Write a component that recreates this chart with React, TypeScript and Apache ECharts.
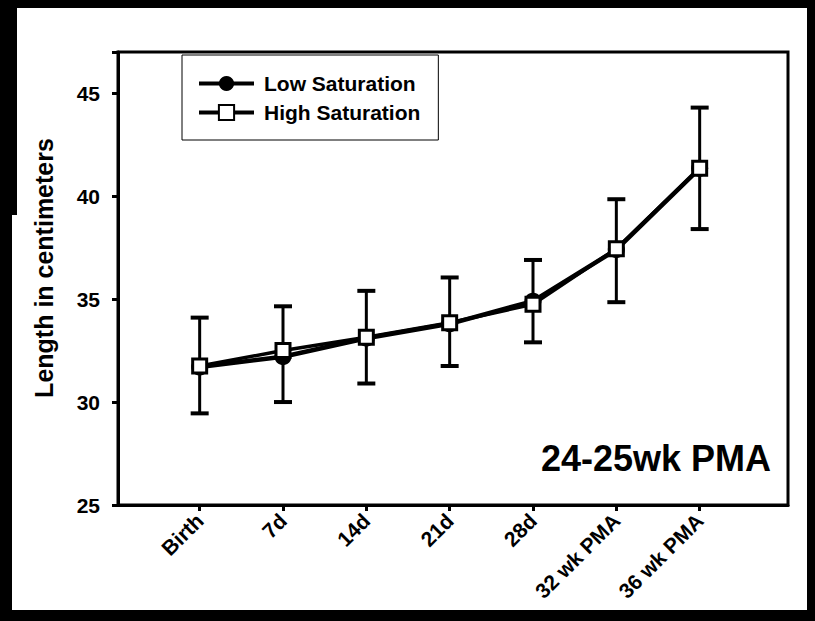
import React, { useEffect, useRef } from "react";
import * as echarts from "echarts";

const categories = ["Birth", "7d", "14d", "21d", "28d", "32 wk PMA", "36 wk PMA"];
const lowSaturation = [31.7, 32.2, 33.1, 33.8, 34.9, 37.4, 41.35];
const highSaturation = [31.75, 32.5, 33.15, 33.85, 34.75, 37.45, 41.35];
const errorUpper = [34.1, 34.65, 35.4, 36.05, 36.9, 39.85, 44.3];
const errorLower = [29.45, 30.0, 30.9, 31.75, 32.9, 34.85, 38.4];
const yTicks = [25, 30, 35, 40, 45];
const yAxisTitle = "Length in centimeters";
const panelLabel = "24-25wk PMA";
const seriesNames = ["Low Saturation", "High Saturation"];

const FONT = "'Liberation Sans', Arial, Helvetica, sans-serif";

export default function App() {
  const ref = useRef<HTMLDivElement>(null);

  useEffect(() => {
    if (!ref.current) return;
    const chart = echarts.init(ref.current, null, { renderer: "svg" });
    const idx = categories.map((_, i) => i);

    const option: any = {
      animation: false,
      backgroundColor: "#fff",
      textStyle: { fontFamily: FONT },
      grid: {
        left: 118,
        right: 27,
        top: 52,
        bottom: 116,
        show: true,
        borderColor: "#000",
        borderWidth: 3,
        backgroundColor: "transparent",
      },
      legend: {
        data: seriesNames,
        orient: "vertical",
        left: 182,
        top: 55,
        itemWidth: 55,
        itemHeight: 19,
        itemGap: 8,
        padding: [18, 18, 17, 15],
        backgroundColor: "#fff",
        borderColor: "#000",
        borderWidth: 1,
        borderRadius: 0,
        lineStyle: { width: 4, color: "#000" },
        textStyle: {
          fontFamily: FONT,
          fontWeight: "bold",
          fontSize: 21,
          color: "#000",
          padding: [0, 0, 0, 5],
        },
        inactiveColor: "#000",
      },
      xAxis: {
        type: "value",
        min: -0.98,
        max: 7.06,
        splitLine: { show: false },
        axisLine: { show: true, onZero: false, lineStyle: { color: "#000", width: 3 } },
        axisTick: {
          show: true,
          inside: false,
          length: 6,
          lineStyle: { color: "#000", width: 3 },
          customValues: idx,
        },
        axisLabel: {
          customValues: idx,
          rotate: 45,
          margin: 12,
          color: "#000",
          fontFamily: FONT,
          fontWeight: "bold",
          fontSize: 21,
          formatter: (v: number) => categories[Math.round(v)] ?? "",
        },
      },
      yAxis: {
        type: "value",
        min: 25,
        max: 47,
        interval: 5,
        splitLine: { show: false },
        axisLine: { show: true, onZero: false, lineStyle: { color: "#000", width: 3 } },
        axisTick: {
          show: true,
          inside: false,
          length: 6,
          lineStyle: { color: "#000", width: 3 },
        },
        axisLabel: {
          margin: 18,
          color: "#000",
          fontFamily: FONT,
          fontWeight: "bold",
          fontSize: 21,
          formatter: (v: number) => (yTicks.includes(v) ? String(v) : ""),
        },
      },
      graphic: [
        {
          type: "text",
          x: 44,
          y: 268,
          rotation: Math.PI / 2,
          style: {
            text: yAxisTitle,
            fontFamily: FONT,
            fontWeight: "bold",
            fontSize: 25,
            fill: "#000",
            align: "center",
            verticalAlign: "middle",
          },
        },
        {
          type: "text",
          x: 771,
          y: 458,
          style: {
            text: panelLabel,
            fontFamily: FONT,
            fontWeight: "bold",
            fontSize: 36,
            fill: "#000",
            align: "right",
            verticalAlign: "middle",
          },
        },
        { type: "rect", shape: { x: 0, y: 0, width: 12, height: 621 }, style: { fill: "#000" } },
        { type: "rect", shape: { x: 0, y: 0, width: 17, height: 215 }, style: { fill: "#000" } },
        { type: "rect", shape: { x: 0, y: 0, width: 815, height: 8 }, style: { fill: "#000" } },
        { type: "rect", shape: { x: 0, y: 610, width: 815, height: 11 }, style: { fill: "#000" } },
        { type: "rect", shape: { x: 807, y: 0, width: 8, height: 621 }, style: { fill: "#000" } },
      ],
      series: [
        {
          type: "custom",
          name: "error",
          z: 1,
          silent: true,
          encode: { x: 0, y: [1, 2] },
          data: idx.map((i) => [i, errorLower[i], errorUpper[i]]),
          renderItem: (params: any, api: any) => {
            const x = api.value(0);
            const pHi = api.coord([x, api.value(2)]);
            const pLo = api.coord([x, api.value(1)]);
            const cap = 9;
            const st = { stroke: "#000", lineWidth: 3 };
            return {
              type: "group",
              children: [
                { type: "line", shape: { x1: pHi[0], y1: pHi[1], x2: pLo[0], y2: pLo[1] }, style: st },
                { type: "line", shape: { x1: pHi[0] - cap, y1: pHi[1], x2: pHi[0] + cap, y2: pHi[1] }, style: { stroke: "#000", lineWidth: 4 } },
                { type: "line", shape: { x1: pLo[0] - cap, y1: pLo[1], x2: pLo[0] + cap, y2: pLo[1] }, style: { stroke: "#000", lineWidth: 4 } },
              ],
            };
          },
        },
        {
          type: "line",
          name: seriesNames[0],
          z: 2,
          data: idx.map((i) => [i, lowSaturation[i]]),
          symbol: "circle",
          symbolSize: 17,
          lineStyle: { color: "#000", width: 4.5 },
          itemStyle: { color: "#000", borderColor: "#000", borderWidth: 0 },
        },
        {
          type: "line",
          name: seriesNames[1],
          z: 3,
          data: idx.map((i) => [i, highSaturation[i]]),
          symbol: "rect",
          symbolSize: 14,
          lineStyle: { color: "#000", width: 3.5 },
          itemStyle: { color: "#fff", borderColor: "#000", borderWidth: 3 },
        },
      ],
    };

    chart.setOption(option);
    return () => chart.dispose();
  }, []);

  return (
    <div
      ref={ref}
      style={{ position: "absolute", left: 0, top: 0, width: 815, height: 621 }}
    />
  );
}
